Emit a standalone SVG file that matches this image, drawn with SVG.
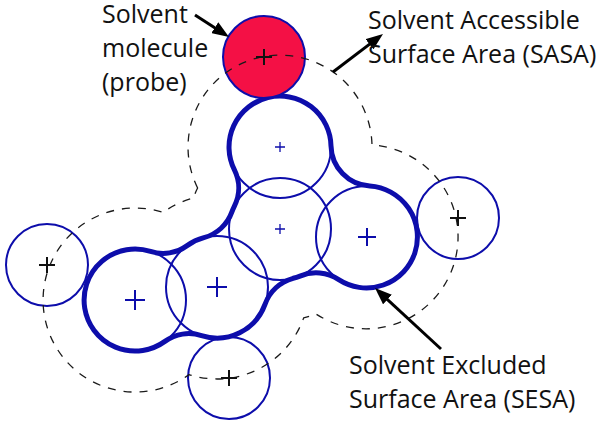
<svg xmlns="http://www.w3.org/2000/svg" width="602" height="440" viewBox="0 0 602 440">
<style>
.atom{fill:none;stroke:#0d0dab;stroke-width:2}
.probe{fill:none;stroke:#0d0dab;stroke-width:2}
.ses{fill:none;stroke:#0d0dab;stroke-width:5;stroke-linejoin:round}
.sas{fill:none;stroke:#1a1a1a;stroke-width:1.3;stroke-dasharray:8 8}
.xs{stroke:#0d0dab;stroke-width:1.3;fill:none}
.xb{stroke:#0d0dab;stroke-width:2;fill:none}
.xk{stroke:#111;stroke-width:2;fill:none}
.lbl{font-family:"Open Sans","Noto Sans","Liberation Sans",sans-serif;font-size:25px;fill:#111}
.arr{stroke:#000;stroke-width:3;fill:none;marker-end:url(#ah)}
</style>
<defs>
<marker id="ah" markerUnits="userSpaceOnUse" viewBox="0 0 17 13" markerWidth="17" markerHeight="13" refX="11" refY="6.5" orient="auto">
<path d="M0,0 L17,6.5 L0,13 Z" fill="#000"/>
</marker>
</defs>
<rect width="602" height="440" fill="#fff"/>

<g id="atoms">
<g id="atom1"><circle class="atom" cx="280" cy="147" r="51"/><path class="xs" d="M275,147h10M280,142v10"/></g>
<g id="atom2"><circle class="atom" cx="280" cy="229" r="51"/><path class="xs" d="M275,229h10M280,224v10"/></g>
<g id="atom3"><circle class="atom" cx="367" cy="237" r="51"/><path class="xb" d="M358,237h18M367,228v18"/></g>
<g id="atom4"><circle class="atom" cx="135" cy="300" r="51"/><path class="xb" d="M125,300h20M135,290v20"/></g>
<g id="atom5"><circle class="atom" cx="217" cy="287" r="51"/><path class="xb" d="M207,287h20M217,277v20"/></g>
</g>

<g id="ses-surface">
<path class="ses" d="M234.3,169.7 A51,51 0 1 1 331,145.9 A41,41 0 0 0 369.8,186 A51,51 0 1 1 338.7,279.7 A41,41 0 0 0 300,276.1 A51,51 0 0 1 293.1,278.3 A41,41 0 0 0 265.1,304.1 A51,51 0 0 1 201.5,335.6 A41,41 0 0 0 164.9,341.4 A51,51 0 1 1 150.5,251.4 A41,41 0 0 0 187.1,245.6 A51,51 0 0 1 203.9,237.7 A41,41 0 0 0 231.9,211.9 A51,51 0 0 1 234.3,206.3 A41,41 0 0 0 234.3,169.7 Z"/>
</g>

<g id="probes">
<g id="probe-top"><circle cx="264" cy="57" r="41" fill="#f41045" stroke="#0d0dab" stroke-width="2"/></g>
<g id="probe-left"><circle class="probe" cx="47" cy="265" r="41"/></g>
<g id="probe-bottom"><circle class="probe" cx="229" cy="378" r="41"/></g>
<g id="probe-right"><circle class="probe" cx="458" cy="218" r="41"/></g>
</g>

<g id="sas-surface">
<path class="sas" d="M197.6,188 A92,92 0 1 1 372,145 A92,92 0 1 1 316,314 A92,92 0 0 1 303.7,317.9 A92,92 0 0 1 189,374.6 A92,92 0 1 1 163,212.4 A92,92 0 0 1 193.3,198.1 A92,92 0 0 1 197.6,188 Z"/>
</g>

<g id="probe-centers">
<path class="xk" d="M256,57h16M264,49v16"/>
<path class="xk" d="M39,265h16M47,257v16"/>
<path class="xk" d="M221,378h16M229,370v16"/>
<path class="xk" d="M450,218h16M458,210v16"/>
</g>

<g id="connectors">
<line class="arr" x1="195" y1="15" x2="224" y2="33.7"/>
<line class="arr" x1="333" y1="72" x2="378.2" y2="37.6"/>
<line class="arr" x1="441" y1="349" x2="379.4" y2="292.1"/>
</g>

<g id="label-probe">
<text class="lbl" x="102" y="23">Solvent</text>
<text class="lbl" x="102" y="57">molecule</text>
<text class="lbl" x="102" y="91">(probe)</text>
</g>
<g id="label-sasa">
<text class="lbl" x="368" y="29">Solvent Accessible</text>
<text class="lbl" x="368" y="63">Surface Area (SASA)</text>
</g>
<g id="label-sesa">
<text class="lbl" x="349" y="374">Solvent Excluded</text>
<text class="lbl" x="349" y="408">Surface Area (SESA)</text>
</g>
</svg>
